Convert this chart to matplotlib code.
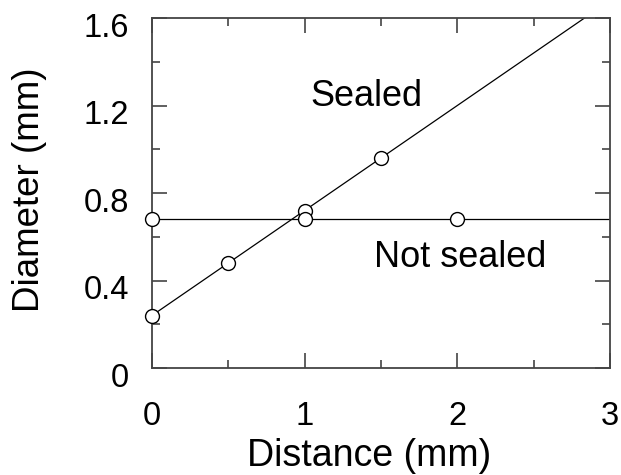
import matplotlib.pyplot as plt
from matplotlib.ticker import MultipleLocator
from matplotlib.transforms import ScaledTranslation

plt.rcParams['font.family'] = ['Liberation Sans', 'DejaVu Sans']

sealed_x = [0, 0.5, 1, 1.5]
sealed_y = [0.24, 0.48, 0.72, 0.96]
notsealed_x = [0, 1, 2]
notsealed_y = [0.68, 0.68, 0.68]

# fitted lines
fit_x = [0, 3]
sealed_fit = [0.24, 0.24 + 0.48 * 3]
notsealed_fit = [0.68, 0.68]

yticks = [0, 0.4, 0.8, 1.2, 1.6]
ytick_labels = ['0', '0.4', '0.8', '1.2', '1.6']

fig = plt.figure(figsize=(6.21, 4.75), dpi=100)
axe = fig.add_axes([152 / 621, 1 - 368 / 475, 458 / 621, 350 / 475])

axe.plot(fit_x, sealed_fit, color='black', lw=0.9, zorder=2)
axe.plot(fit_x, notsealed_fit, color='black', lw=0.9, zorder=2)
axe.plot(sealed_x, sealed_y, 'o', ms=10, mfc='white', mec='black', mew=1.0, zorder=3, clip_on=False)
axe.plot(notsealed_x, notsealed_y, 'o', ms=10, mfc='white', mec='black', mew=1.0, zorder=3, clip_on=False)

axe.text(1.035, 1.20, 'Sealed', fontsize=26, va='baseline', ha='left')
axe.text(1.455, 0.462, 'Not sealed', fontsize=26, va='baseline', ha='left')

axe.set_xlim(0, 3)
axe.set_ylim(0, 1.6)
axe.xaxis.set_major_locator(MultipleLocator(1))
axe.xaxis.set_minor_locator(MultipleLocator(0.5))
axe.set_yticks(yticks)
axe.set_yticklabels(ytick_labels)
axe.yaxis.set_minor_locator(MultipleLocator(0.2))

axe.tick_params(which='both', direction='in', top=True, right=True, labelsize=23.5, color='#444444')
axe.tick_params(which='major', length=11, width=1.2)
axe.tick_params(which='minor', length=6, width=1.2)
axe.tick_params(axis='x', which='major', pad=24)
axe.tick_params(axis='y', which='major', pad=16.5)
for lab in axe.get_yticklabels():
    lab.set_transform(lab.get_transform() + ScaledTranslation(0, -5 / 72, fig.dpi_scale_trans))
for s in axe.spines.values():
    s.set_linewidth(1.3)
    s.set_color('#444444')

axe.set_xlabel('Distance (mm)', fontsize=27)
axe.set_ylabel('Diameter (mm)', fontsize=26.5)
axe.xaxis.set_label_coords(0.473, -0.2)
axe.yaxis.set_label_coords(-0.229, 0.509)

fig.savefig('out.png', dpi=100)
